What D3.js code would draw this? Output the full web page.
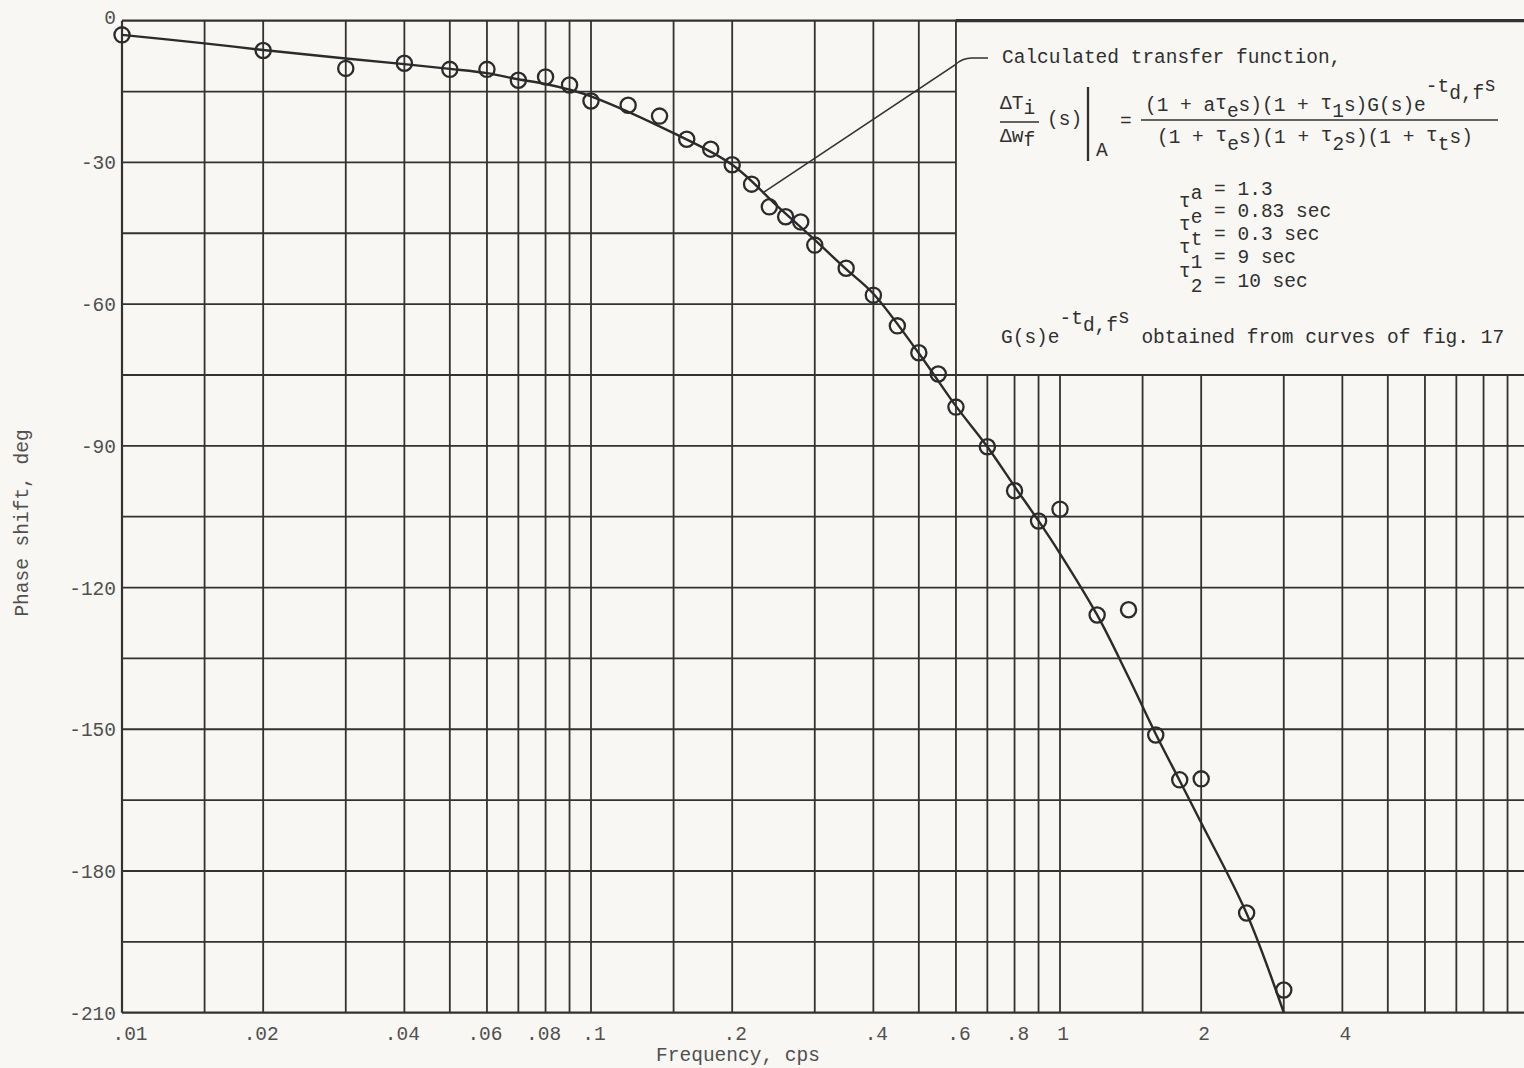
<!DOCTYPE html>
<html>
<head>
<meta charset="utf-8">
<script src="https://cdn.jsdelivr.net/npm/d3@7"></script>
<style>
  html, body { margin: 0; padding: 0; background: #f8f7f3; }
  svg { display: block; }
  text { font-family: "Liberation Mono", "DejaVu Sans Mono", monospace; }
</style>
</head>
<body>
<svg id="chart" width="1524" height="1068"></svg>
<script>
// Measured phase shift at each test frequency (cps, deg)
const measFreq  = [0.01, 0.02, 0.03, 0.04, 0.05, 0.06, 0.07, 0.08, 0.09, 0.1,
                   0.12, 0.14, 0.16, 0.18, 0.2, 0.22, 0.24, 0.26, 0.28, 0.3,
                   0.35, 0.4, 0.45, 0.5, 0.55, 0.6, 0.7, 0.8, 0.9, 1.0,
                   1.2, 1.4, 1.6, 1.8, 2.0, 2.5, 3.0];
const measPhase = [-3.0, -6.3, -10.1, -9.0, -10.3, -10.3, -12.6, -11.9, -13.6, -17.0,
                   -17.9, -20.2, -25.1, -27.2, -30.5, -34.6, -39.4, -41.5, -42.6, -47.5,
                   -52.4, -58.1, -64.6, -70.3, -74.8, -81.8, -90.2, -99.5, -105.9, -103.4,
                   -125.8, -124.7, -151.2, -160.7, -160.5, -188.9, -205.2];

// Calculated transfer function phase (faired curve)
const calcFreq  = [0.01, 0.015, 0.02, 0.03, 0.04, 0.05, 0.06, 0.07, 0.08, 0.09, 0.1,
                   0.15, 0.2, 0.25, 0.3, 0.35, 0.4, 0.5, 0.6, 0.7, 0.8, 0.9, 1.0,
                   1.2, 1.4, 1.6, 1.8, 2.0, 2.5, 3.0];
const calcPhase = [-3.0, -4.8, -6.2, -8.0, -9.2, -10.2, -11.1, -12.4, -13.4, -14.6, -16.0,
                   -23.8, -30.5, -39.3, -46.4, -52.6, -57.8, -70.4, -81.6, -90.2, -98.6, -105.9, -112.8,
                   -125.8, -139.0, -151.0, -160.9, -169.8, -189.0, -210.0];

// Axis ticks
const yTickVals  = [0, -30, -60, -90, -120, -150, -180, -210];
const xTickVals  = [0.01, 0.02, 0.04, 0.06, 0.08, 0.1, 0.2, 0.4, 0.6, 0.8, 1, 2, 4];
const xTickText  = [".01", ".02", ".04", ".06", ".08", ".1", ".2", ".4", ".6", ".8", "1", "2", "4"];
const gridMults  = [1, 1.5, 2, 3, 4, 5, 6, 7, 8, 9];
const gridDecades = [0.01, 0.1, 1];

const W = 1524, H = 1068;
const INK = "#323232";
const svg = d3.select("#chart");

svg.append("rect").attr("width", W).attr("height", H).attr("fill", "#f8f7f3");

const x = d3.scaleLog().domain([0.01, 10]).range([122, 1529]);
const y = d3.scaleLinear().domain([0, -210]).range([20.7, 1012.7]);

// Region kept free of grid for the annotation block
const boxF = 0.6, boxDeg = -75;

const grid = svg.append("g").attr("stroke", INK).attr("fill", "none");

// vertical grid lines
const vLines = [];
gridDecades.forEach(d => gridMults.forEach(m => vLines.push(+(d * m).toPrecision(3))));
vLines.forEach(f => {
  const top = f > boxF + 1e-9 ? y(boxDeg) : y(0);
  grid.append("line")
    .attr("x1", x(f)).attr("x2", x(f))
    .attr("y1", top).attr("y2", y(-210))
    .attr("stroke-width", f === 0.01 ? 2.2 : 1.8);
});

// horizontal grid lines every 15 deg
d3.range(0, -211, -15).forEach(d => {
  const right = (d < 0 && d > boxDeg) ? x(boxF) : W;
  grid.append("line")
    .attr("x1", x(0.01)).attr("x2", right)
    .attr("y1", y(d)).attr("y2", y(d))
    .attr("stroke-width", (d === 0 || d === -210 || d === boxDeg) ? 2.2 : 1.8);
});
// heavier top rule over the annotation block
grid.append("line")
  .attr("x1", x(boxF)).attr("x2", W)
  .attr("y1", y(0)).attr("y2", y(0))
  .attr("stroke-width", 3.2);

// y tick labels
svg.append("g").selectAll("text").data(yTickVals).join("text")
  .attr("x", 116)
  .attr("y", d => y(d) + (d === 0 ? 3 : 7))
  .attr("text-anchor", "end")
  .attr("font-size", 19.5)
  .attr("fill", "#505050")
  .text(d => d === 0 ? "0" : "-" + Math.abs(d));

// x tick labels
svg.append("g").selectAll("text").data(xTickVals).join("text")
  .attr("x", (d, i) => x(d) + (i === 0 ? 8 : (xTickText[i].length === 3 ? -2 : 3)))
  .attr("y", 1040)
  .attr("text-anchor", "middle")
  .attr("font-size", 19.5)
  .attr("fill", "#505050")
  .text((d, i) => xTickText[i]);

// axis titles
svg.append("text")
  .attr("x", 738).attr("y", 1061)
  .attr("text-anchor", "middle")
  .attr("font-size", 19.5).attr("fill", "#505050")
  .text("Frequency, cps");

svg.append("text")
  .attr("transform", "translate(28,523) rotate(-90)")
  .attr("text-anchor", "middle")
  .attr("font-size", 19.5).attr("fill", "#505050")
  .text("Phase shift, deg");

// calculated curve
const line = d3.line()
  .x(d => x(d[0])).y(d => y(d[1]))
  .curve(d3.curveCatmullRom.alpha(0.5));
svg.append("path")
  .datum(calcFreq.map((f, i) => [f, calcPhase[i]]))
  .attr("d", line)
  .attr("fill", "none")
  .attr("stroke", "#2b2b2b")
  .attr("stroke-width", 2.4);

// measured points
svg.append("g").selectAll("circle")
  .data(measFreq.map((f, i) => [f, measPhase[i]]))
  .join("circle")
  .attr("cx", d => x(d[0])).attr("cy", d => y(d[1]))
  .attr("r", 7.6)
  .attr("fill", "none")
  .attr("stroke", "#2b2b2b")
  .attr("stroke-width", 2.3);

// leader from curve to the annotation
const lx = x(0.232), ly = y(-36.5);
svg.append("path")
  .attr("d", `M${lx},${ly} L955,65 Q962,58 972,58 L988,58`)
  .attr("fill", "none").attr("stroke", INK).attr("stroke-width", 1.6);

// ---- annotation text (typewriter style, fixed pitch) ----
const FS = 19.5, P = FS * 0.6;
const ann = svg.append("g").attr("font-size", FS).attr("fill", "#303030");

// runs: [text, baseline]; each run continues on the same fixed-pitch column grid
function typeRuns(x0, runs) {
  let col = 0;
  runs.forEach(([t, b]) => {
    const tx = ann.append("text").attr("y", b);
    [...t].forEach((ch, k) => {
      tx.append("tspan").attr("x", x0 + (col + k) * P).text(ch);
    });
    col += [...t].length;
  });
}

typeRuns(1002, [["Calculated transfer function,", 63]]);

// left-hand side
typeRuns(1000, [["ΔT", 109], ["i", 114]]);
typeRuns(1000, [["Δw", 142], ["f", 146]]);
ann.append("line").attr("x1", 1000).attr("x2", 1039).attr("y1", 122).attr("y2", 122)
  .attr("stroke", "#303030").attr("stroke-width", 1.6);
typeRuns(1047, [["(s)", 125]]);
ann.append("line").attr("x1", 1088).attr("x2", 1088).attr("y1", 87).attr("y2", 161)
  .attr("stroke", "#303030").attr("stroke-width", 2.3);
typeRuns(1096, [["A", 156]]);
typeRuns(1120, [["=", 127]]);

// right-hand fraction
typeRuns(1145, [["(1 + a", 111], ["τ", 109], ["e", 117], ["s)(1 + ", 111], ["τ", 109], ["1", 117],
                ["s)G(s)e", 111], ["-t", 92], ["d,f", 99], ["s", 91]]);
ann.append("line").attr("x1", 1141).attr("x2", 1498).attr("y1", 120).attr("y2", 120)
  .attr("stroke", "#303030").attr("stroke-width", 1.6);
typeRuns(1157, [["(1 + ", 143], ["τ", 141], ["e", 150], ["s)(1 + ", 143], ["τ", 141], ["2", 150],
                ["s)(1 + ", 143], ["τ", 141], ["t", 150], ["s)", 143]]);

// constants
typeRuns(1179 + P, [["a", 199], [" = 1.3", 195]]);
typeRuns(1179, [["τ", 207], ["e", 223], [" = 0.83 sec", 217]]);
typeRuns(1179, [["τ", 230], ["t", 245], [" = 0.3 sec", 240]]);
typeRuns(1179, [["τ", 253], ["1", 268], [" = 9 sec", 263]]);
typeRuns(1179, [["τ", 277], ["2", 292], [" = 10 sec", 287]]);

// source note
typeRuns(1001, [["G(s)e", 343], ["-t", 324], ["d,f", 331], ["s", 323], [" obtained from curves of fig. 17", 343]]);
</script>
</body>
</html>
